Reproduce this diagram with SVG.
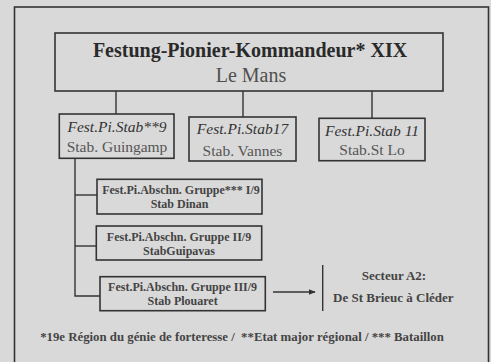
<svg xmlns="http://www.w3.org/2000/svg" width="491" height="362" viewBox="0 0 491 362">
<style>
.box{fill:none;stroke:#333;stroke-width:1.6}
.ln{fill:none;stroke:#333;stroke-width:1.4}
text{font-family:"Liberation Serif","Times New Roman",serif;text-anchor:middle}
.t1{font-size:20px;font-weight:bold;fill:#2a2a2a}
.t2{font-size:20px;fill:#505050}
.it{font-size:15.5px;font-style:italic;fill:#333}
.sub{font-size:15.5px;fill:#555}
.sm{font-size:12px;font-weight:bold;fill:#444}
.ft{font-size:12.8px;font-weight:bold;fill:#444;white-space:pre}
.sec{font-size:13px;font-weight:bold;fill:#444}
</style>
<defs>
<marker id="arr" viewBox="0 0 10 10" refX="9" refY="5" markerWidth="7" markerHeight="7" markerUnits="userSpaceOnUse" orient="auto"><path d="M0,1 L10,5 L0,9 z" fill="#333"/></marker>
</defs>
<rect x="0" y="0" width="491" height="362" fill="#d9d9d9"/>
<rect x="14.5" y="7" width="474" height="370" class="box"/>
<g id="connectors">
<line x1="116" y1="91" x2="116" y2="114" class="ln"/>
<line x1="243" y1="91" x2="243" y2="117" class="ln"/>
<line x1="372" y1="91" x2="372" y2="118" class="ln"/>
<polyline points="75,158 75,296 100,296" class="ln"/>
<line x1="75" y1="195" x2="97" y2="195" class="ln"/>
<line x1="75" y1="246" x2="96" y2="246" class="ln"/>
<line x1="273" y1="292" x2="315" y2="292" class="ln" marker-end="url(#arr)"/>
<line x1="322.7" y1="265" x2="322.7" y2="311" class="ln"/>
</g>
<g id="main">
<rect x="55" y="33" width="388" height="58" class="box"/>
<text x="250" y="57.3" class="t1">Festung-Pionier-Kommandeur* XIX</text>
<text x="251" y="81.7" class="t2">Le Mans</text>
</g>
<g id="stab9">
<rect x="59.3" y="114" width="114.7" height="44.3" class="box"/>
<text x="117" y="131.7" class="it">Fest.Pi.Stab**9</text>
<text x="117" y="151.7" class="sub">Stab. Guingamp</text>
</g>
<g id="stab17">
<rect x="189" y="117" width="107" height="44" class="box"/>
<text x="242.5" y="134" class="it">Fest.Pi.Stab17</text>
<text x="242.5" y="156" class="sub">Stab. Vannes</text>
</g>
<g id="stab11">
<rect x="319" y="118.3" width="106" height="42.4" class="box"/>
<text x="372" y="135.7" class="it">Fest.Pi.Stab 11</text>
<text x="372" y="155" class="sub">Stab.St Lo</text>
</g>
<g id="gruppe1">
<rect x="97" y="179.3" width="165" height="34.7" class="box"/>
<text x="181" y="194" class="sm">Fest.Pi.Abschn. Gruppe*** I/9</text>
<text x="179.5" y="208.3" class="sm">Stab Dinan</text>
</g>
<g id="gruppe2">
<rect x="96.3" y="226" width="165.4" height="34" class="box"/>
<text x="179" y="240.7" class="sm">Fest.Pi.Abschn. Gruppe II/9</text>
<text x="179" y="255" class="sm">StabGuipavas</text>
</g>
<g id="gruppe3">
<rect x="100" y="276.7" width="165.3" height="34" class="box"/>
<text x="182.6" y="290.7" class="sm">Fest.Pi.Abschn. Gruppe III/9</text>
<text x="182.6" y="305" class="sm">Stab Plouaret</text>
</g>
<g id="secteur">
<text x="394" y="280" class="sec">Secteur A2:</text>
<text x="393.3" y="301.7" class="sec">De St Brieuc à Cléder</text>
</g>
<text x="242" y="340.7" class="ft">*19e Région du génie de forteresse /  **Etat major régional / *** Bataillon</text>
</svg>
